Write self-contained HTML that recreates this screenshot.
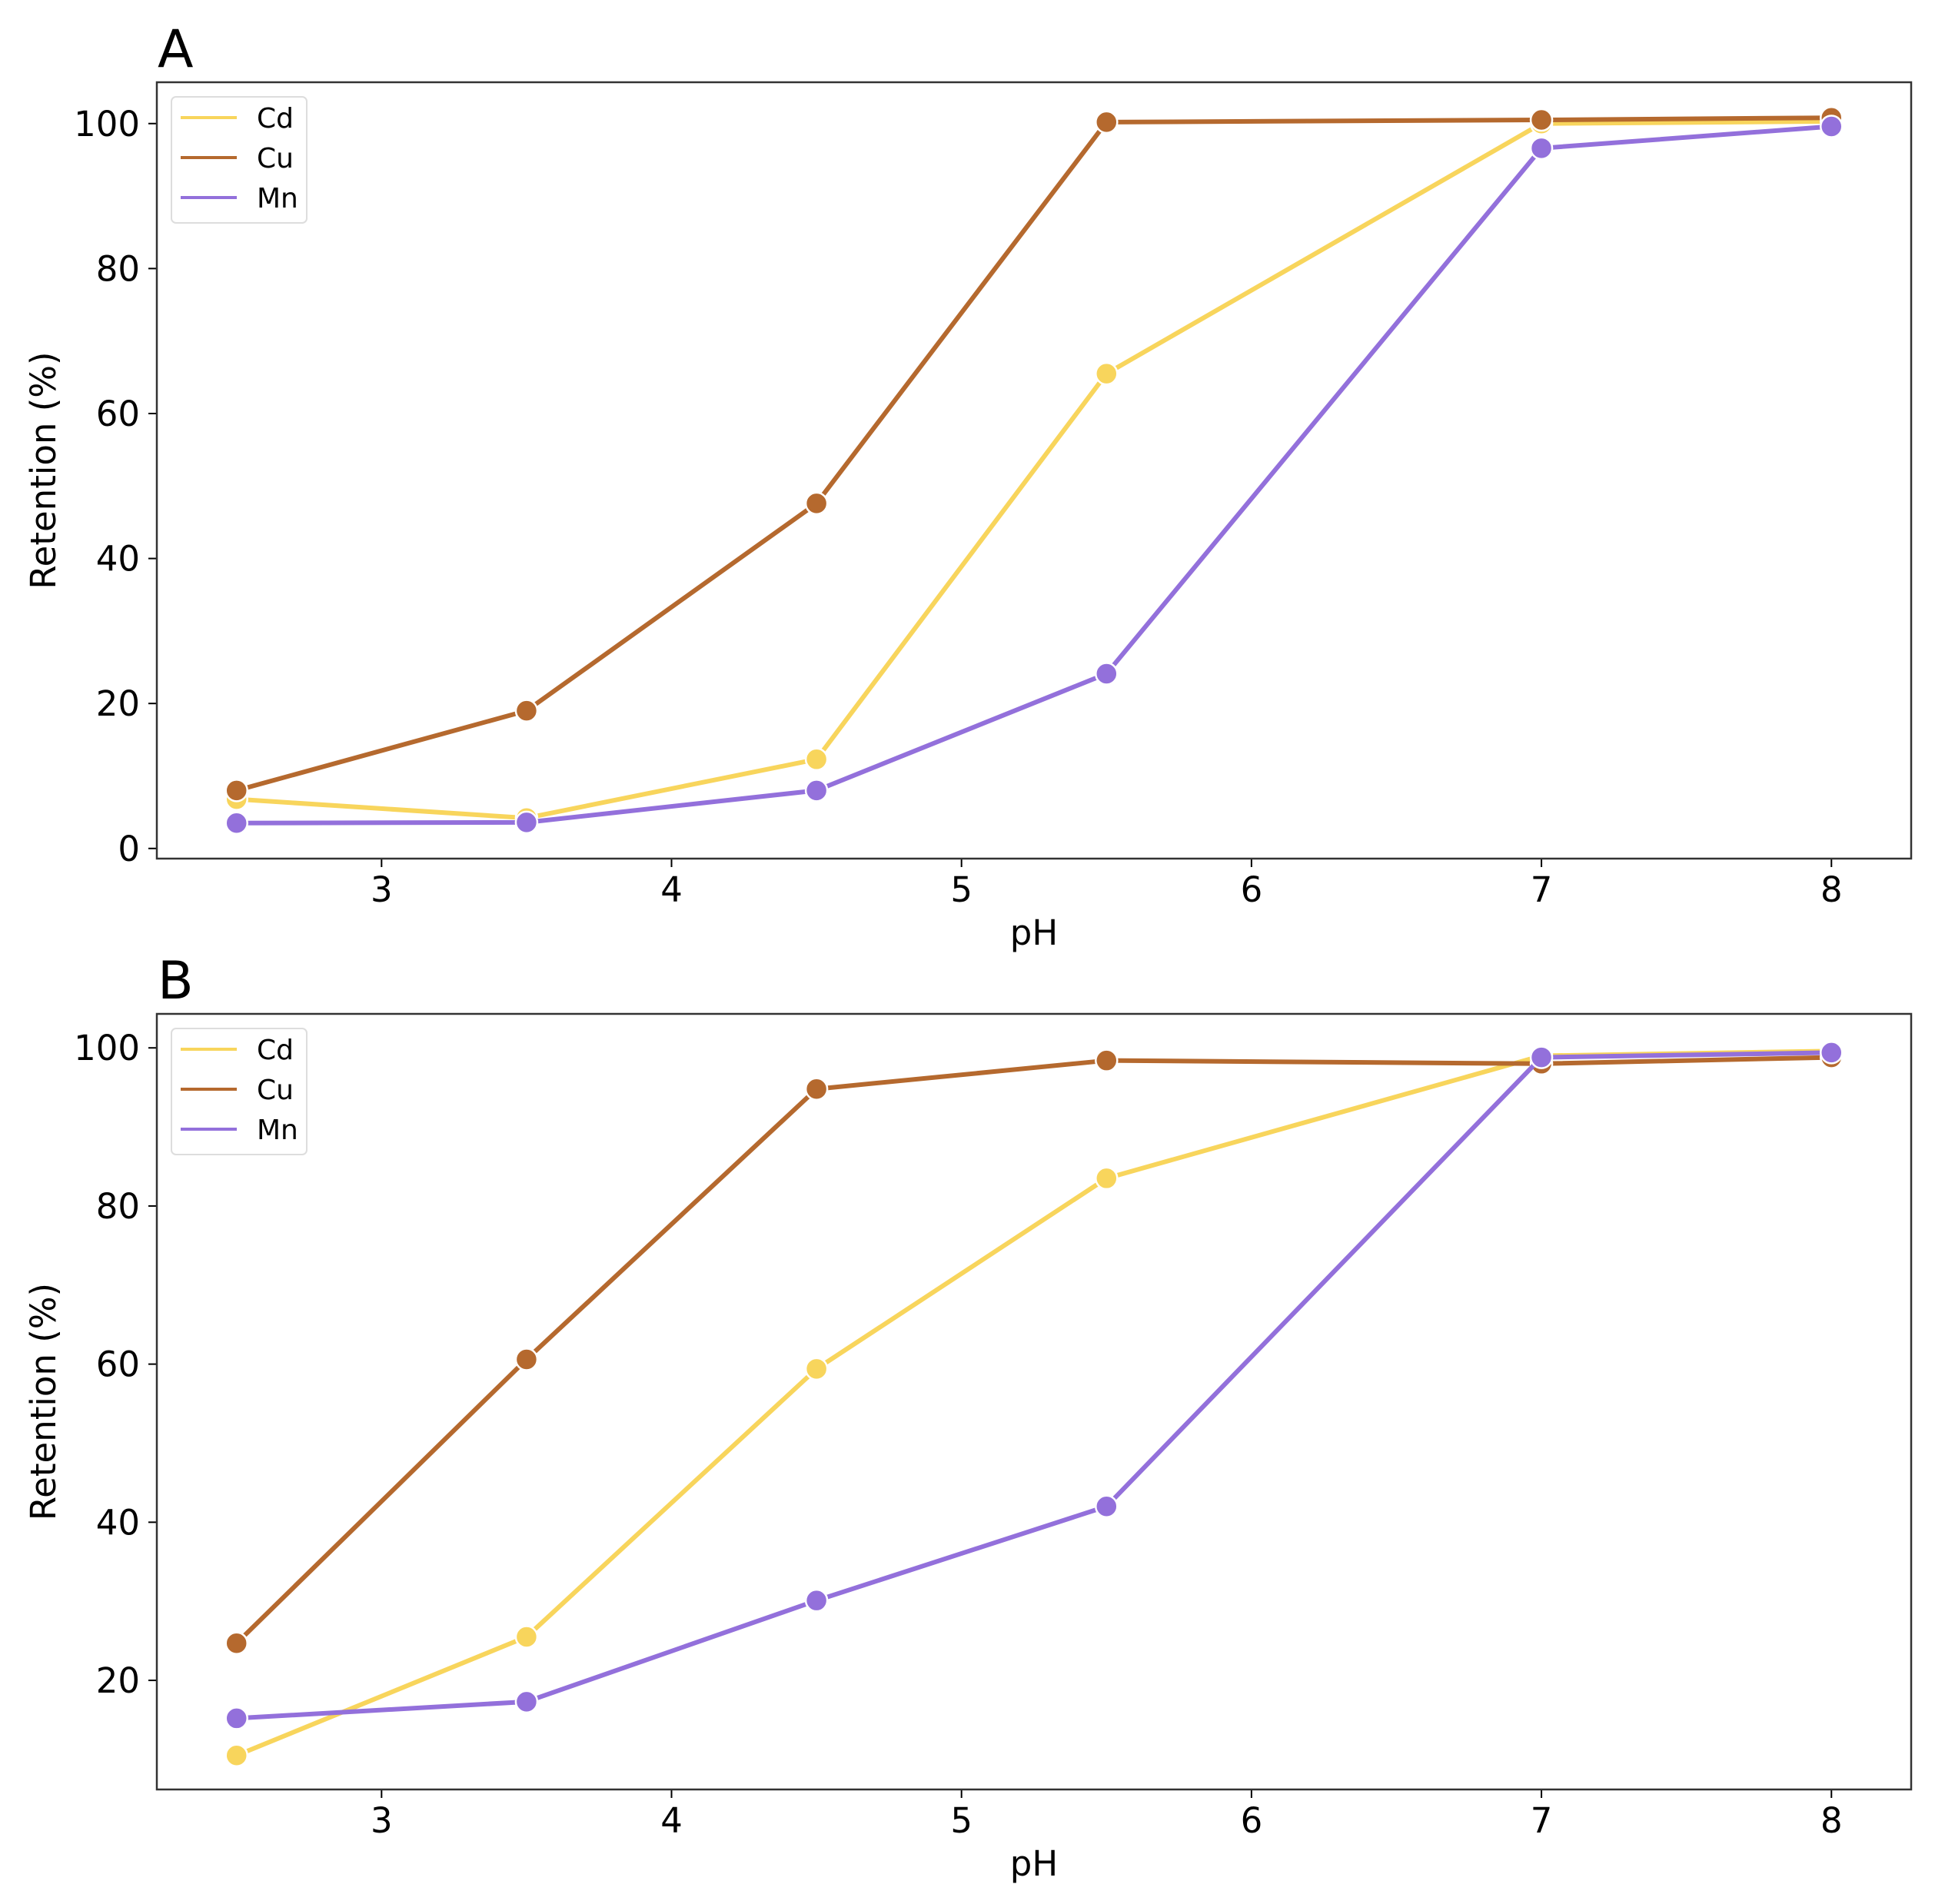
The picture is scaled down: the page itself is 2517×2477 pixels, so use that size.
<!DOCTYPE html>
<html><head><meta charset="utf-8"><style>
html,body{margin:0;padding:0;background:#fff;}
svg{display:block;font-family:"DejaVu Sans","Liberation Sans",sans-serif;}
</style></head><body>
<svg id="chart" width="2517" height="2477" viewBox="0 0 2517 2477" xmlns="http://www.w3.org/2000/svg"></svg>
<script>
const phValues = [2.5, 3.5, 4.5, 5.5, 7, 8];
const seriesNames = ["Cd", "Cu", "Mn"];
const aCd = [6.8, 4.2, 12.3, 65.5, 100.0, 100.3];
const aCu = [8.0, 19.0, 47.6, 100.2, 100.5, 100.8];
const aMn = [3.5, 3.6, 8.0, 24.1, 96.6, 99.6];
const bCd = [10.5, 25.5, 59.4, 83.5, 99.0, 99.6];
const bCu = [24.7, 60.6, 94.8, 98.4, 98.0, 98.8];
const bMn = [15.2, 17.3, 30.1, 42.0, 98.8, 99.4];
const xTicks = [3, 4, 5, 6, 7, 8];
const aYTicks = [0, 20, 40, 60, 80, 100];
const bYTicks = [20, 40, 60, 80, 100];
const colors = {Cd:"#f8d55c", Cu:"#b5692e", Mn:"#9370db"};

const NS = "http://www.w3.org/2000/svg";
const svg = document.getElementById("chart");
function mk(tag, attrs, parent){
  const e = document.createElementNS(NS, tag);
  for (const k in attrs) e.setAttribute(k, attrs[k]);
  (parent||svg).appendChild(e);
  return e;
}

function drawPanel(p){
  const g = mk("g", {});
  
  
  const L=204, R=2486, T=p.top, B=p.bottom;
  const x = v => L + (v - 2.225) / (8.275 - 2.225) * (R - L);
  const y = v => B - (v - p.ymin) / (p.ymax - p.ymin) * (B - T);
  const title = mk("text", {x:205, y:T-20, "font-size":68, fill:"#000"}, g);
  title.textContent = p.label;
  
  
  xTicks.forEach(t => {
    const tk = mk("line", {x1:x(t), x2:x(t), y1:B, y2:B+11, stroke:"#000", "stroke-width":2}, g);
    
    
    const tl = mk("text", {x:x(t), y:B+56, "font-size":45, "text-anchor":"middle", fill:"#000"}, g);
    tl.textContent = t;
    
    
  });
  p.yTicks.forEach(t => {
    const tk = mk("line", {x1:L-11, x2:L, y1:y(t), y2:y(t), stroke:"#000", "stroke-width":2}, g);
    
    
    const tl = mk("text", {x:182, y:y(t)+16, "font-size":45, "text-anchor":"end", fill:"#000"}, g);
    tl.textContent = t;
    
    
  });
  const xl = mk("text", {x:1345, y:B+112, "font-size":45, "text-anchor":"middle", fill:"#000"}, g);
  xl.textContent = "pH";
  
  
  const cy = (T+B)/2;
  const yl = mk("text", {x:0, y:0, "font-size":45, "text-anchor":"middle", fill:"#000", transform:`translate(72,${cy}) rotate(-90)`}, g);
  yl.textContent = "Retention (%)";
  
  
  p.series.forEach((vals, si) => {
    const name = seriesNames[si];
    const sg = mk("g", {}, g);
    
    
    const pts = vals.map((v,i) => x(phValues[i]) + "," + y(v)).join(" ");
    const ln = mk("polyline", {points:pts, fill:"none", stroke:colors[name], "stroke-width":6, "stroke-linejoin":"round"}, sg);
    
    
    vals.forEach((v,i) => {
      const c = mk("circle", {cx:x(phValues[i]), cy:y(v), r:14, fill:colors[name], stroke:"#fff", "stroke-width":2.5}, sg);
      
      
    });
  });
  const fr = mk("rect", {x:L, y:T, width:R-L, height:B-T, fill:"none", stroke:"#333", "stroke-width":2.5}, g);
  
  
  const lg = mk("g", {}, g);
  
  
  const ly = T + 19;
  mk("rect", {x:223, y:ly, width:176, height:164, rx:6, fill:"#fff", stroke:"#ddd", "stroke-width":2}, lg);
  seriesNames.forEach((n,i) => {
    const e = mk("g", {}, lg);
    
    
    const yy = ly + 27 + i*52;
    mk("line", {x1:235, x2:308, y1:yy, y2:yy, stroke:colors[n], "stroke-width":4}, e);
    const t = mk("text", {x:334, y:yy+13, "font-size":36, fill:"#000"}, e);
    t.textContent = n;
  });
}

drawPanel({label:"A", top:107, bottom:1117, ymin:-1.4, ymax:105.7, yTicks:aYTicks, series:[aCd,aCu,aMn]});
drawPanel({label:"B", top:1319, bottom:2328, ymin:6.2, ymax:104.3, yTicks:bYTicks, series:[bCd,bCu,bMn]});
</script>
</body></html>
